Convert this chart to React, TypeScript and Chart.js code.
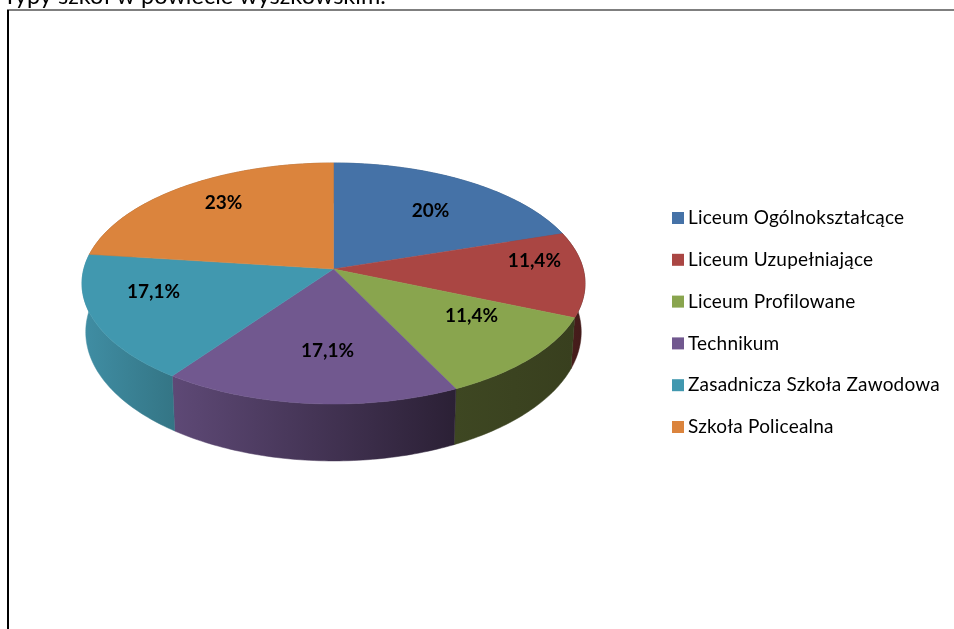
import React, { useEffect, useRef } from "react";
import { Chart, registerables } from "chart.js";

Chart.register(...registerables);

const title = "Typy szkół w powiecie wyszkowskim.";
const categories = [
  "Liceum Ogólnokształcące",
  "Liceum Uzupełniające",
  "Liceum Profilowane",
  "Technikum",
  "Zasadnicza Szkoła Zawodowa",
  "Szkoła Policealna",
];
const values = [20, 11.4, 11.4, 17.1, 17.1, 23];
const colors = ["#4572A7", "#AA4643", "#89A54E", "#71588F", "#4198AF", "#DB843D"];
const wallLeft = ["#2F4F75", "#4E1F1D", "#3E4722", "#5E4976", "#408EA4", "#98592A"];
const wallRight = ["#2F4F75", "#421B1A", "#383F1E", "#2B2035", "#347585", "#98592A"];
const labelRadius = [0.663, 0.814, 0.649, 0.638, 0.729, 0.76];
const labelAngleShift = [2.5, -7.3, -8, -2.9, 8.6, 3];

// Projection of the flat disc on to the tilted, perspective view.
const CX = 333.5;
const CY = 269;
const A = 249.7;
const B = 118.76;
const K = 0.1203;
const FONT = "Lato";

const project = (theta: number, r: number) => {
  const u = r * Math.sin(theta);
  const v = -r * Math.cos(theta);
  const d = 1 - K * v;
  return { dx: (A * u) / d, dy: (B * v) / d };
};

const pie3d = {
  id: "pie3d",
  beforeDraw(chart: any) {
    const ctx = chart.ctx;
    ctx.save();
    ctx.fillStyle = "#fff";
    ctx.fillRect(0, 0, chart.width, chart.height);
    // page frame
    ctx.fillStyle = "#000";
    ctx.fillRect(7, 9.5, chart.width - 7, 1);
    ctx.fillRect(7, 10, 2, chart.height - 10);
    ctx.font = `23.5px ${FONT}`;
    ctx.textBaseline = "alphabetic";
    ctx.textAlign = "left";
    ctx.fillText(title, 3, 4);
    ctx.restore();
  },
  beforeDatasetsDraw(chart: any) {
    const ctx = chart.ctx;
    const arcs = chart.getDatasetMeta(0).data;
    ctx.save();
    // side walls
    arcs.forEach((arc: any, i: number) => {
      const t0 = arc.startAngle + Math.PI / 2;
      const t1 = arc.endAngle + Math.PI / 2;
      const n = Math.ceil(((t1 - t0) * 180) / Math.PI);
      const top: [number, number][] = [];
      const bot: [number, number][] = [];
      for (let s = 0; s <= n; s++) {
        const p = project(t0 + ((t1 - t0) * s) / n, 1);
        top.push([CX + p.dx, CY + p.dy]);
        bot.push([CX + p.dx * 0.985, 316.5 + CY - 269 + p.dy * 1.07]);
      }
      const xs = top.map((q) => q[0]).concat(bot.map((q) => q[0]));
      const g = ctx.createLinearGradient(Math.min(...xs), 0, Math.max(...xs), 0);
      g.addColorStop(0, wallLeft[i]);
      g.addColorStop(1, wallRight[i]);
      ctx.fillStyle = g;
      ctx.strokeStyle = g;
      ctx.lineWidth = 0.5;
      ctx.beginPath();
      top.forEach((q, j) => (j ? ctx.lineTo(q[0], q[1]) : ctx.moveTo(q[0], q[1])));
      bot.reverse().forEach((q) => ctx.lineTo(q[0], q[1]));
      ctx.closePath();
      ctx.fill();
      ctx.stroke();
    });
    // top faces
    arcs.forEach((arc: any, i: number) => {
      const t0 = arc.startAngle + Math.PI / 2;
      const t1 = arc.endAngle + Math.PI / 2;
      const n = Math.ceil(((t1 - t0) * 180) / Math.PI);
      ctx.fillStyle = colors[i];
      ctx.strokeStyle = colors[i];
      ctx.lineWidth = 0.5;
      ctx.beginPath();
      ctx.moveTo(CX, CY);
      for (let s = 0; s <= n; s++) {
        const p = project(t0 + ((t1 - t0) * s) / n, 1);
        ctx.lineTo(CX + p.dx, CY + p.dy);
      }
      ctx.closePath();
      ctx.fill();
      ctx.stroke();
    });
    // value labels
    ctx.fillStyle = "#000";
    ctx.font = `bold 19px ${FONT}`;
    ctx.textAlign = "center";
    ctx.textBaseline = "middle";
    arcs.forEach((arc: any, i: number) => {
      const mid = (arc.startAngle + arc.endAngle) / 2 + Math.PI / 2;
      const p = project(mid + (labelAngleShift[i] * Math.PI) / 180, labelRadius[i]);
      ctx.fillText(`${String(values[i]).replace(".", ",")}%`, CX + p.dx, CY + p.dy);
    });
    // legend
    ctx.font = `19px ${FONT}`;
    (ctx as any).letterSpacing = "0.2px";
    ctx.textAlign = "left";
    categories.forEach((c, i) => {
      const y = 218 + i * 41.8;
      ctx.fillStyle = colors[i];
      ctx.fillRect(672, y - 6, 12, 12);
      ctx.fillStyle = "#000";
      ctx.fillText(c, 688, y);
    });
    ctx.restore();
    return false;
  },
};

export default function App() {
  const ref = useRef<HTMLCanvasElement>(null);
  useEffect(() => {
    const chart = new Chart(ref.current!, {
      type: "pie",
      data: {
        labels: categories,
        datasets: [{ data: values, backgroundColor: colors, borderWidth: 0 }],
      },
      options: {
        responsive: false,
        animation: false,
        plugins: { legend: { display: false }, tooltip: { enabled: false } },
      },
      plugins: [pie3d],
    } as any);
    return () => chart.destroy();
  }, []);
  return (
    <canvas
      ref={ref}
      width={954}
      height={629}
      style={{ position: "fixed", left: 0, top: 0, display: "block" }}
    />
  );
}
